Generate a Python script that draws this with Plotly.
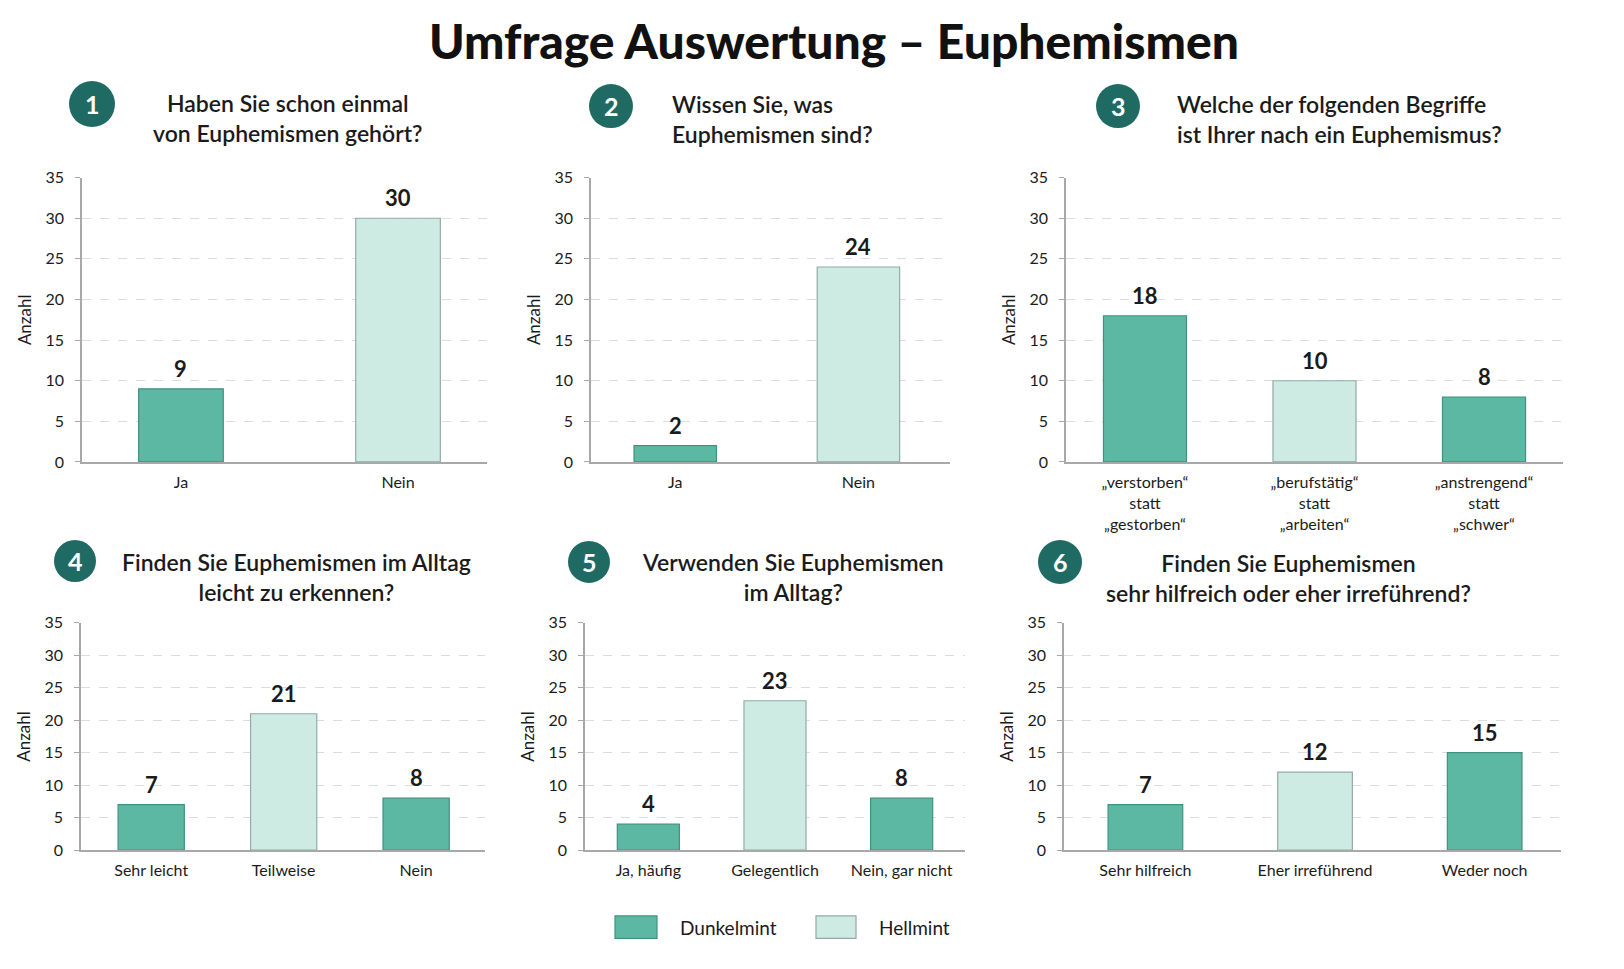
import plotly.graph_objects as go

W, H = 1624, 969

# ---------------- data ----------------
main_title = "Umfrage Auswertung – Euphemismen"

question_numbers = ["1", "2", "3", "4", "5", "6"]
questions = [
    "Haben Sie schon einmal<br>von Euphemismen gehört?",
    "Wissen Sie, was<br>Euphemismen sind?",
    "Welche der folgenden Begriffe<br>ist Ihrer nach ein Euphemismus?",
    "Finden Sie Euphemismen im Alltag<br>leicht zu erkennen?",
    "Verwenden Sie Euphemismen<br>im Alltag?",
    "Finden Sie Euphemismen<br>sehr hilfreich oder eher irreführend?",
]

categories_1 = ["Ja", "Nein"]
values_1 = [9, 30]
tones_1 = ["Dunkelmint", "Hellmint"]

categories_2 = ["Ja", "Nein"]
values_2 = [2, 24]
tones_2 = ["Dunkelmint", "Hellmint"]

categories_3 = ["„verstorben“<br>statt<br>„gestorben“",
                "„berufstätig“<br>statt<br>„arbeiten“",
                "„anstrengend“<br>statt<br>„schwer“"]
values_3 = [18, 10, 8]
tones_3 = ["Dunkelmint", "Hellmint", "Dunkelmint"]

categories_4 = ["Sehr leicht", "Teilweise", "Nein"]
values_4 = [7, 21, 8]
tones_4 = ["Dunkelmint", "Hellmint", "Dunkelmint"]

categories_5 = ["Ja, häufig", "Gelegentlich", "Nein, gar nicht"]
values_5 = [4, 23, 8]
tones_5 = ["Dunkelmint", "Hellmint", "Dunkelmint"]

categories_6 = ["Sehr hilfreich", "Eher irreführend", "Weder noch"]
values_6 = [7, 12, 15]
tones_6 = ["Dunkelmint", "Hellmint", "Dunkelmint"]

y_ticks = [0, 5, 10, 15, 20, 25, 30, 35]
y_title = "Anzahl"
legend_names = ["Dunkelmint", "Hellmint"]

# ---------------- style ----------------
FONT = "Lato"
TEXT = "#1b1b1b"
fills = {"Dunkelmint": "#5cb8a3", "Hellmint": "#cdeae3"}
borders = {"Dunkelmint": "#3f927f", "Hellmint": "#93aba5"}
CIRCLE = "#1f6b63"

# panel geometry in pixels
panels = [
    dict(px=(82, 487), py=(171, 461), xr=(-0.456, 1.41), bw=0.39,
         circ=(92, 96, 23), tx=287, ta="center", ty=110),
    dict(px=(591, 950), py=(171, 461), xr=(-0.46, 1.50), bw=0.45,
         circ=(611, 98, 22), tx=670, ta="left", ty=111),
    dict(px=(1066, 1563), py=(171, 461), xr=(-0.466, 2.466), bw=0.49,
         circ=(1118, 98, 22), tx=1175, ta="left", ty=111),
    dict(px=(81, 485), py=(625, 857), xr=(-0.53, 2.52), bw=0.50,
         circ=(75, 562, 21), tx=296, ta="center", ty=578),
    dict(px=(585, 965), py=(625, 857), xr=(-0.5, 2.5), bw=0.49,
         circ=(589, 563, 21), tx=793, ta="center", ty=578),
    dict(px=(1064, 1561), py=(625, 857), xr=(-0.48, 2.45), bw=0.44,
         circ=(1060, 563, 22), tx=1288, ta="center", ty=579),
]

datasets = [
    (categories_1, values_1, tones_1),
    (categories_2, values_2, tones_2),
    (categories_3, values_3, tones_3),
    (categories_4, values_4, tones_4),
    (categories_5, values_5, tones_5),
    (categories_6, values_6, tones_6),
]

def fx(p):
    return p / W

def fy(p):
    return 1 - p / H

fig = go.Figure()
annotations = []
shapes = []
layout_axes = {}

for i, (panel, (cats, vals, tones)) in enumerate(zip(panels, datasets)):
    n = i + 1
    xa = "x" if n == 1 else f"x{n}"
    ya = "y" if n == 1 else f"y{n}"
    fig.add_trace(go.Bar(
        x=cats, y=vals, xaxis=xa, yaxis=ya,
        width=panel["bw"],
        marker=dict(color=[fills[t] for t in tones],
                    line=dict(color=[borders[t] for t in tones], width=1.2)),
        showlegend=False, hoverinfo="x+y",
    ))
    # value labels above bars
    for c, v in zip(cats, vals):
        annotations.append(dict(
            x=c, y=v, xref=xa, yref=ya, text=f"<b>{v}</b>", showarrow=False,
            yanchor="bottom", yshift=5,
            font=dict(family=FONT, size=22, color=TEXT),
        ))
    xkey = "xaxis" if n == 1 else f"xaxis{n}"
    ykey = "yaxis" if n == 1 else f"yaxis{n}"
    layout_axes[xkey] = dict(
        domain=[fx(panel["px"][0]), fx(panel["px"][1])],
        anchor=ya, type="category", range=list(panel["xr"]),
        showgrid=False, showline=True, linecolor="#a8a8a8", linewidth=1.5,
        ticks="", ticklabelstandoff=5,
        tickfont=dict(family=FONT, size=16, color=TEXT),
        fixedrange=True,
    )
    layout_axes[ykey] = dict(
        domain=[fy(panel["py"][1]), fy(panel["py"][0])],
        anchor=xa, range=[0, 35], tickvals=y_ticks,
        showgrid=True, gridcolor="#dcdcdc", griddash="dash", gridwidth=1,
        zeroline=False, showline=True, linecolor="#a8a8a8", linewidth=1.5,
        ticks="outside", ticklen=5, tickcolor="#a8a8a8", ticklabelstandoff=8,
        tickfont=dict(family=FONT, size=16, color=TEXT),
        title=dict(text=y_title, standoff=10,
                   font=dict(family=FONT, size=17, color=TEXT)),
        fixedrange=True,
    )
    # numbered circle
    cx, cy, r = panel["circ"]
    shapes.append(dict(
        type="circle", xref="paper", yref="paper",
        xsizemode="pixel", ysizemode="pixel",
        xanchor=fx(cx), yanchor=fy(cy),
        x0=-r, x1=r, y0=-r, y1=r,
        fillcolor=CIRCLE, line=dict(color=CIRCLE, width=0), layer="above",
    ))
    annotations.append(dict(
        x=fx(cx), y=fy(cy), xref="paper", yref="paper",
        text=f"<b>{question_numbers[i]}</b>", showarrow=False,
        xanchor="center", yanchor="middle",
        font=dict(family=FONT, size=25, color="white"),
    ))
    # question title
    annotations.append(dict(
        x=fx(panel["tx"]), y=fy(panel["ty"]), xref="paper", yref="paper",
        text=questions[i], showarrow=False,
        xanchor=panel["ta"], yanchor="middle", align=panel["ta"],
        font=dict(family=FONT, size=23, color=TEXT, weight=600),
    ))

# main title
annotations.append(dict(
    x=fx(834), y=fy(31), xref="paper", yref="paper", text=main_title,
    showarrow=False, xanchor="center", yanchor="middle",
    font=dict(family=FONT, size=48, color="#111111", weight=900),
))

# legend
legend_boxes = [(615, 657, 924, 947, 678), (816, 856, 924, 947, 877)]
for name, (x0, x1, y0, y1, tx) in zip(legend_names, legend_boxes):
    shapes.append(dict(
        type="rect", xref="paper", yref="paper",
        x0=fx(x0), x1=fx(x1), y0=fy(y1), y1=fy(y0),
        fillcolor=fills[name], line=dict(color=borders[name], width=1.2),
    ))
    annotations.append(dict(
        x=fx(tx), y=fy((y0 + y1) / 2), xref="paper", yref="paper",
        text=name, showarrow=False, xanchor="left", yanchor="middle",
        font=dict(family=FONT, size=19, color=TEXT),
    ))

fig.update_layout(
    width=W, height=H,
    margin=dict(l=0, r=0, t=0, b=0),
    paper_bgcolor="white", plot_bgcolor="white",
    font=dict(family=FONT, color=TEXT),
    annotations=annotations, shapes=shapes,
    showlegend=False,
    **layout_axes,
)

fig.write_html(
    "out.html",
    config={"displayModeBar": False},
    post_script="document.body.style.margin='0';document.body.style.overflow='hidden';",
)
